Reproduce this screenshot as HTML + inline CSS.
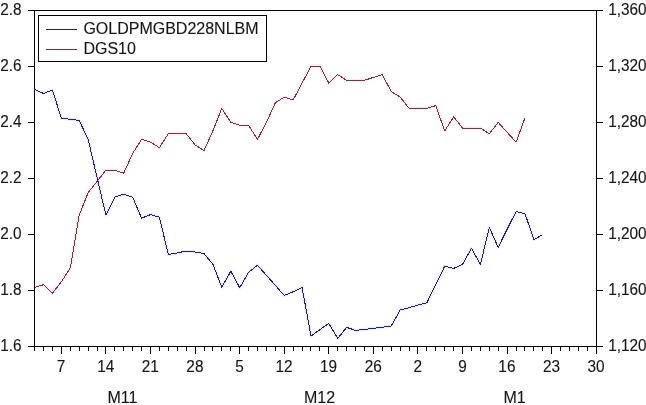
<!DOCTYPE html>
<html><head><meta charset="utf-8"><title>Chart</title>
<style>
html,body{margin:0;padding:0;background:#fff;}
body{width:646px;height:405px;overflow:hidden;}
svg{display:block;}
text{font-family:"Liberation Sans",sans-serif;font-size:16px;fill:#161616;stroke:#161616;stroke-width:0.12px;}
</style></head><body>
<svg width="646" height="405" viewBox="0 0 646 405">
<rect x="0" y="0" width="646" height="405" fill="#ffffff"/>

<g fill="#000" shape-rendering="crispEdges">
<rect x="34" y="10" width="563" height="1"/>
<rect x="34" y="346" width="563" height="1"/>
<rect x="34" y="10" width="1" height="337"/>
<rect x="596" y="10" width="1" height="337"/>
<rect x="28" y="10" width="6" height="1"/>
<rect x="597" y="10" width="6" height="1"/>
<rect x="28" y="66" width="6" height="1"/>
<rect x="597" y="66" width="6" height="1"/>
<rect x="28" y="122" width="6" height="1"/>
<rect x="597" y="122" width="6" height="1"/>
<rect x="28" y="178" width="6" height="1"/>
<rect x="597" y="178" width="6" height="1"/>
<rect x="28" y="234" width="6" height="1"/>
<rect x="597" y="234" width="6" height="1"/>
<rect x="28" y="290" width="6" height="1"/>
<rect x="597" y="290" width="6" height="1"/>
<rect x="28" y="346" width="6" height="1"/>
<rect x="597" y="346" width="6" height="1"/>
<rect x="34" y="347" width="1" height="4"/>
<rect x="43" y="347" width="1" height="4"/>
<rect x="52" y="347" width="1" height="4"/>
<rect x="61" y="347" width="1" height="7"/>
<rect x="70" y="347" width="1" height="4"/>
<rect x="79" y="347" width="1" height="4"/>
<rect x="88" y="347" width="1" height="4"/>
<rect x="97" y="347" width="1" height="4"/>
<rect x="105" y="347" width="1" height="7"/>
<rect x="114" y="347" width="1" height="4"/>
<rect x="123" y="347" width="1" height="4"/>
<rect x="132" y="347" width="1" height="4"/>
<rect x="141" y="347" width="1" height="4"/>
<rect x="150" y="347" width="1" height="7"/>
<rect x="159" y="347" width="1" height="4"/>
<rect x="168" y="347" width="1" height="4"/>
<rect x="177" y="347" width="1" height="4"/>
<rect x="186" y="347" width="1" height="4"/>
<rect x="195" y="347" width="1" height="7"/>
<rect x="204" y="347" width="1" height="4"/>
<rect x="212" y="347" width="1" height="4"/>
<rect x="221" y="347" width="1" height="4"/>
<rect x="230" y="347" width="1" height="4"/>
<rect x="239" y="347" width="1" height="7"/>
<rect x="248" y="347" width="1" height="4"/>
<rect x="257" y="347" width="1" height="4"/>
<rect x="266" y="347" width="1" height="4"/>
<rect x="275" y="347" width="1" height="4"/>
<rect x="284" y="347" width="1" height="7"/>
<rect x="293" y="347" width="1" height="4"/>
<rect x="302" y="347" width="1" height="4"/>
<rect x="310" y="347" width="1" height="4"/>
<rect x="319" y="347" width="1" height="4"/>
<rect x="328" y="347" width="1" height="7"/>
<rect x="337" y="347" width="1" height="4"/>
<rect x="346" y="347" width="1" height="4"/>
<rect x="355" y="347" width="1" height="4"/>
<rect x="364" y="347" width="1" height="4"/>
<rect x="373" y="347" width="1" height="7"/>
<rect x="382" y="347" width="1" height="4"/>
<rect x="391" y="347" width="1" height="4"/>
<rect x="400" y="347" width="1" height="4"/>
<rect x="409" y="347" width="1" height="4"/>
<rect x="417" y="347" width="1" height="7"/>
<rect x="426" y="347" width="1" height="4"/>
<rect x="435" y="347" width="1" height="4"/>
<rect x="444" y="347" width="1" height="4"/>
<rect x="453" y="347" width="1" height="4"/>
<rect x="462" y="347" width="1" height="7"/>
<rect x="471" y="347" width="1" height="4"/>
<rect x="480" y="347" width="1" height="4"/>
<rect x="489" y="347" width="1" height="4"/>
<rect x="498" y="347" width="1" height="4"/>
<rect x="507" y="347" width="1" height="7"/>
<rect x="516" y="347" width="1" height="4"/>
<rect x="524" y="347" width="1" height="4"/>
<rect x="533" y="347" width="1" height="4"/>
<rect x="542" y="347" width="1" height="4"/>
<rect x="551" y="347" width="1" height="7"/>
<rect x="560" y="347" width="1" height="4"/>
<rect x="569" y="347" width="1" height="4"/>
<rect x="578" y="347" width="1" height="4"/>
<rect x="587" y="347" width="1" height="4"/>
<rect x="596" y="347" width="1" height="7"/>
</g>
<rect x="38.5" y="15.5" width="228" height="46" fill="#fff" stroke="#000" stroke-width="1" shape-rendering="crispEdges"/>
<rect x="46" y="29" width="31" height="1" fill="#201c5c" shape-rendering="crispEdges"/>
<rect x="46" y="49" width="31" height="1" fill="#6e2c36" shape-rendering="crispEdges"/>
<text x="83.4" y="34">GOLDPMGBD228NLBM</text>
<text x="83.4" y="54">DGS10</text>
<polyline fill="none" stroke="#ff5070" stroke-opacity="0.13" stroke-width="3" stroke-linejoin="round" points="34.6,287.5 43.5,284.7 52.4,293.2 61.3,281.9 70.3,267.9 79.2,215.2 88.1,192.7 97.0,181.5 105.9,170.2 114.8,170.2 123.8,173.1 132.7,153.4 141.6,139.3 150.5,142.1 159.4,147.7 168.3,133.7 177.3,133.7 186.2,133.7 195.1,144.9 204.0,150.6 212.9,130.9 221.8,108.4 230.8,122.4 239.7,125.3 248.6,125.3 257.5,139.3 266.4,122.4 275.3,102.8 284.2,97.1 293.2,99.9 302.1,83.1 311.0,66.2 319.9,66.2 328.8,83.1 337.7,74.6 346.7,80.3 355.6,80.3 364.5,80.3 373.4,77.4 382.3,74.6 391.2,91.5 400.2,97.1 409.1,108.4 418.0,108.4 426.9,108.4 435.8,105.6 444.7,130.9 453.7,116.8 462.6,128.1 471.5,128.1 480.4,128.1 489.3,133.7 498.2,122.4 507.1,132.3 516.1,142.1 525.0,117.9"/>
<polyline fill="none" stroke="#5060ff" stroke-opacity="0.13" stroke-width="3" stroke-linejoin="round" points="34.6,89.3 43.5,93.5 52.4,90.1 61.3,118.0 70.3,119.3 79.2,120.5 88.1,139.3 97.0,177.2 105.9,215.2 114.8,197.1 123.8,194.2 132.7,197.2 141.6,218.2 150.5,214.6 159.4,217.2 168.3,254.4 177.3,252.9 186.2,251.0 195.1,252.0 204.0,253.5 212.9,264.2 221.8,287.3 230.8,271.2 239.7,287.7 248.6,272.3 257.5,265.2 266.4,275.3 275.3,285.3 284.2,295.5 293.2,291.7 302.1,287.7 311.0,336.0 319.9,329.7 328.8,323.3 337.7,338.4 346.7,327.4 355.6,330.4 364.5,329.4 373.4,328.3 382.3,327.2 391.2,326.1 400.2,310.0 409.1,307.7 418.0,305.0 426.9,302.7 435.8,284.4 444.7,266.2 453.7,268.4 462.6,264.3 471.5,248.3 480.4,264.4 489.3,227.6 498.2,247.3 507.1,229.4 516.1,211.5 525.0,213.7 533.9,239.6 541.9,235.1"/>
<polyline fill="none" stroke="#7e3440" stroke-width="1" stroke-linejoin="round" shape-rendering="crispEdges" points="34.6,287.5 43.5,284.7 52.4,293.2 61.3,281.9 70.3,267.9 79.2,215.2 88.1,192.7 97.0,181.5 105.9,170.2 114.8,170.2 123.8,173.1 132.7,153.4 141.6,139.3 150.5,142.1 159.4,147.7 168.3,133.7 177.3,133.7 186.2,133.7 195.1,144.9 204.0,150.6 212.9,130.9 221.8,108.4 230.8,122.4 239.7,125.3 248.6,125.3 257.5,139.3 266.4,122.4 275.3,102.8 284.2,97.1 293.2,99.9 302.1,83.1 311.0,66.2 319.9,66.2 328.8,83.1 337.7,74.6 346.7,80.3 355.6,80.3 364.5,80.3 373.4,77.4 382.3,74.6 391.2,91.5 400.2,97.1 409.1,108.4 418.0,108.4 426.9,108.4 435.8,105.6 444.7,130.9 453.7,116.8 462.6,128.1 471.5,128.1 480.4,128.1 489.3,133.7 498.2,122.4 507.1,132.3 516.1,142.1 525.0,117.9"/>
<polyline fill="none" stroke="#25216c" stroke-width="1" stroke-linejoin="round" shape-rendering="crispEdges" points="34.6,89.3 43.5,93.5 52.4,90.1 61.3,118.0 70.3,119.3 79.2,120.5 88.1,139.3 97.0,177.2 105.9,215.2 114.8,197.1 123.8,194.2 132.7,197.2 141.6,218.2 150.5,214.6 159.4,217.2 168.3,254.4 177.3,252.9 186.2,251.0 195.1,252.0 204.0,253.5 212.9,264.2 221.8,287.3 230.8,271.2 239.7,287.7 248.6,272.3 257.5,265.2 266.4,275.3 275.3,285.3 284.2,295.5 293.2,291.7 302.1,287.7 311.0,336.0 319.9,329.7 328.8,323.3 337.7,338.4 346.7,327.4 355.6,330.4 364.5,329.4 373.4,328.3 382.3,327.2 391.2,326.1 400.2,310.0 409.1,307.7 418.0,305.0 426.9,302.7 435.8,284.4 444.7,266.2 453.7,268.4 462.6,264.3 471.5,248.3 480.4,264.4 489.3,227.6 498.2,247.3 507.1,229.4 516.1,211.5 525.0,213.7 533.9,239.6 541.9,235.1"/>
<text x="0.3" y="14.7" textLength="21.35" lengthAdjust="spacingAndGlyphs">2.8</text>
<text x="0.3" y="70.7" textLength="21.35" lengthAdjust="spacingAndGlyphs">2.6</text>
<text x="0.3" y="126.7" textLength="21.35" lengthAdjust="spacingAndGlyphs">2.4</text>
<text x="0.3" y="182.7" textLength="21.35" lengthAdjust="spacingAndGlyphs">2.2</text>
<text x="0.3" y="238.7" textLength="21.35" lengthAdjust="spacingAndGlyphs">2.0</text>
<text x="0.3" y="294.7" textLength="21.35" lengthAdjust="spacingAndGlyphs">1.8</text>
<text x="0.3" y="350.7" textLength="21.35" lengthAdjust="spacingAndGlyphs">1.6</text>
<text x="608.2" y="14.7" textLength="38.44" lengthAdjust="spacingAndGlyphs">1,360</text>
<text x="608.2" y="70.7" textLength="38.44" lengthAdjust="spacingAndGlyphs">1,320</text>
<text x="608.2" y="126.7" textLength="38.44" lengthAdjust="spacingAndGlyphs">1,280</text>
<text x="608.2" y="182.7" textLength="38.44" lengthAdjust="spacingAndGlyphs">1,240</text>
<text x="608.2" y="238.7" textLength="38.44" lengthAdjust="spacingAndGlyphs">1,200</text>
<text x="608.2" y="294.7" textLength="38.44" lengthAdjust="spacingAndGlyphs">1,160</text>
<text x="608.2" y="350.7" textLength="38.44" lengthAdjust="spacingAndGlyphs">1,120</text>
<text x="61.1" y="371.5" text-anchor="middle" textLength="8.54" lengthAdjust="spacingAndGlyphs">7</text>
<text x="105.7" y="371.5" text-anchor="middle" textLength="17.08" lengthAdjust="spacingAndGlyphs">14</text>
<text x="150.3" y="371.5" text-anchor="middle" textLength="17.08" lengthAdjust="spacingAndGlyphs">21</text>
<text x="194.9" y="371.5" text-anchor="middle" textLength="17.08" lengthAdjust="spacingAndGlyphs">28</text>
<text x="239.5" y="371.5" text-anchor="middle" textLength="8.54" lengthAdjust="spacingAndGlyphs">5</text>
<text x="284.0" y="371.5" text-anchor="middle" textLength="17.08" lengthAdjust="spacingAndGlyphs">12</text>
<text x="328.6" y="371.5" text-anchor="middle" textLength="17.08" lengthAdjust="spacingAndGlyphs">19</text>
<text x="373.2" y="371.5" text-anchor="middle" textLength="17.08" lengthAdjust="spacingAndGlyphs">26</text>
<text x="417.8" y="371.5" text-anchor="middle" textLength="8.54" lengthAdjust="spacingAndGlyphs">2</text>
<text x="462.4" y="371.5" text-anchor="middle" textLength="8.54" lengthAdjust="spacingAndGlyphs">9</text>
<text x="506.9" y="371.5" text-anchor="middle" textLength="17.08" lengthAdjust="spacingAndGlyphs">16</text>
<text x="551.5" y="371.5" text-anchor="middle" textLength="17.08" lengthAdjust="spacingAndGlyphs">23</text>
<text x="596.1" y="371.5" text-anchor="middle" textLength="17.08" lengthAdjust="spacingAndGlyphs">30</text>
<text x="122.5" y="402.5" text-anchor="middle">M11</text>
<text x="319.6" y="402.5" text-anchor="middle">M12</text>
<text x="514.6" y="402.5" text-anchor="middle">M1</text>
</svg></body></html>
